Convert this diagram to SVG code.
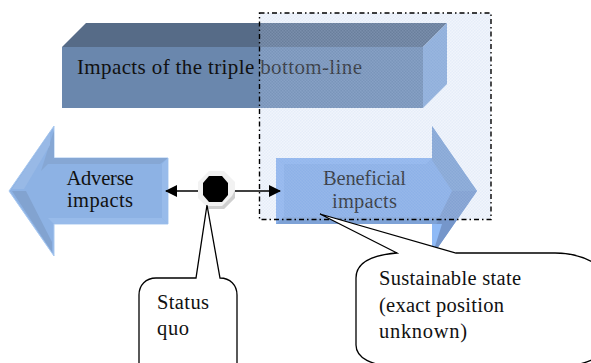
<svg xmlns="http://www.w3.org/2000/svg" width="591" height="363" viewBox="0 0 591 363">
<style>
text{font-family:"Liberation Serif","Times New Roman",serif;fill:#111}
.lbl{font-size:20.5px}
.call{fill:#fff;stroke:#000;stroke-width:1.3}
.conn{fill:none;stroke:#000;stroke-width:1.5}
</style>
<defs>
<marker id="ah" viewBox="0 0 12 12" refX="11" refY="6" markerWidth="12" markerHeight="12" markerUnits="userSpaceOnUse" orient="auto"><path d="M0 0L12 6L0 12Z" fill="#000"/></marker>
<pattern id="dither" width="3" height="3" patternUnits="userSpaceOnUse"><rect width="3" height="3" fill="#b8cff0" fill-opacity=".2"/><rect width="1.5" height="1.5" fill="#b8cff0" fill-opacity=".2"/><rect x="1.5" y="1.5" width="1.5" height="1.5" fill="#b8cff0" fill-opacity=".2"/></pattern>
</defs>
<g id="box">
<polygon points="62,47 86,23 447,23 423,47" fill="#566b87"/>
<polygon points="423,47 447,23 447,84 423,108" fill="#86a8d6"/>
<rect x="62" y="47" width="361" height="61" fill="#6a87ad"/>
<text x="77" y="74" font-size="21" textLength="285" lengthAdjust="spacing">Impacts of the triple bottom-line</text>
</g>
<g id="adverse">
<polygon points="9,191 54,126 54,158 168,158 168,224 54,224 54,256" fill="#8db2e4" stroke="#a9c9f0" stroke-width="1"/>
<polygon points="54,130 54,158 41,171" fill="#86a7d4"/>
<polygon points="54,158 168,158 160,164 46,164" fill="#86a7d4"/>
<polygon points="168,158 168,224 162,218 162,164" fill="#98bbea"/>
<polygon points="54,224 168,224 162,218 48,218" fill="#98bbea"/>
<polygon points="12,191 26,191 52,242 52,252" fill="#82a3d0"/>
<polygon points="12,189 24,189 50,145 50,132" fill="#98b9e6"/>
<text class="lbl" x="100" y="185" text-anchor="middle" textLength="67">Adverse</text>
<text class="lbl" x="100" y="207" text-anchor="middle" textLength="66">impacts</text>
</g>
<g id="beneficial">
<polygon points="477,191 432,126 432,158 276,158 276,224 432,224 432,256" fill="#82aae6"/>
<polygon points="432,126 477,191 452,191 432,160" fill="#7c9fd0"/>
<polygon points="276,158 432,158 426,164 284,164" fill="#8ab2ee"/>
<polygon points="276,158 284,164 284,216 276,224" fill="#8cb3ee"/>
<polygon points="477,191 452,191 436,224 432,256" fill="#7596ca"/>
<polygon points="276,224 284,217 442,217 436,224" fill="#7ea2d6"/>
<polygon points="432,224 432,256 442,224" fill="#8fbaf6"/>
<text class="lbl" x="364.5" y="184.5" text-anchor="middle" textLength="83">Beneficial</text>
<text class="lbl" x="364.5" y="207.5" text-anchor="middle" textLength="65">impacts</text>
</g>
<g id="overlay">
<rect x="259.5" y="13" width="231.5" height="206.5" fill="url(#dither)" stroke="#000" stroke-width="1.4" stroke-dasharray="5 3 1.5 3"/>
</g>
<g id="connectors">
<line class="conn" x1="198" y1="191" x2="166" y2="191" marker-end="url(#ah)"/>
<line class="conn" x1="235" y1="191" x2="280" y2="191" marker-end="url(#ah)"/>
</g>
<g id="status-marker">
<polygon points="209,171 224,171 235,182 235,198 224,209 209,209 198,198 198,182" fill="#f2f2f2"/>
<polygon points="235,190 235,198 224,209 209,209 206,206 222,206 232,196" fill="#cfcfcf"/>
<polygon points="209,176 222,176 228,183 228,195 222,202 209,202 203,195 203,183" fill="#000"/>
</g>
<g id="status-quo">
<path class="call" d="M156 278H196L207 205L220 278C230 278 237 285 237 295V363C237 373 230 380 220 380H156C146 380 139 373 139 363V295C139 285 146 278 156 278Z"/>
<text class="lbl" x="157" y="309" textLength="52">Status</text>
<text class="lbl" x="157" y="335" textLength="32">quo</text>
</g>
<g id="sustainable-state">
<path class="call" d="M397 253L320 214L456 253H555C580 253 598 262 612 278V345C600 358 585 366 560 366H395C372 366 356 358 356 345V278C356 263 372 255 397 253Z"/>
<text class="lbl" x="379" y="285" textLength="142">Sustainable state</text>
<text class="lbl" x="379" y="312" textLength="125">(exact position</text>
<text class="lbl" x="379" y="338" textLength="88">unknown)</text>
</g>
</svg>
